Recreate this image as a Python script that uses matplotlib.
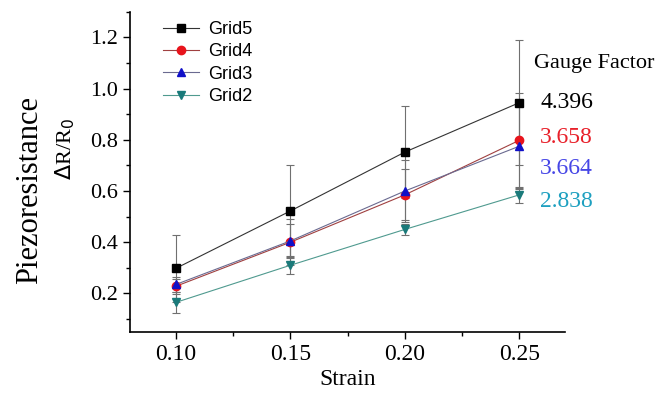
import matplotlib
matplotlib.use("Agg")
import matplotlib.pyplot as plt
from matplotlib.ticker import MultipleLocator

strain = [0.10, 0.15, 0.20, 0.25]
grid5 = [0.298, 0.522, 0.752, 0.945]
grid5_err = [0.13, 0.18, 0.18, 0.245]
grid4 = [0.228, 0.400, 0.585, 0.798]
grid4_err = [0.03, 0.09, 0.10, 0.185]
grid3 = [0.235, 0.405, 0.600, 0.775]
grid3_err = [0.03, 0.065, 0.12, 0.165]
grid2 = [0.165, 0.310, 0.450, 0.585]
grid2_err = [0.04, 0.035, 0.02, 0.03]
labels = ["Grid5", "Grid4", "Grid3", "Grid2"]
gauge = ["4.396", "3.658", "3.664", "2.838"]

serif = ["Liberation Serif", "DejaVu Serif"]

fig = plt.figure(figsize=(6.67, 3.96), dpi=100)
ax = fig.add_axes([0.195, 0.162, 0.652, 0.808])

series = [
    (grid5, grid5_err, "s", "black", "#333333"),
    (grid4, grid4_err, "o", "#e8141c", "#a04040"),
    (grid3, grid3_err, "^", "#1010c8", "#6a6a90"),
    (grid2, grid2_err, "v", "#1a7a7a", "#4f9a8f"),
]
for (y, e, m, mc, lc), lab in zip(series, labels):
    ax.errorbar(strain, y, yerr=e, fmt="none", ecolor="#707070", elinewidth=0.8,
                capsize=3, capthick=0.8, zorder=1)
    ax.plot(strain, y, color=lc, lw=0.8, marker=m, markersize=6,
            markerfacecolor=mc, markeredgecolor=mc, label=lab, zorder=3)

ax.set_xlim(0.08, 0.27)
ax.set_ylim(0.05, 1.3)
ax.xaxis.set_major_locator(MultipleLocator(0.05))
ax.xaxis.set_minor_locator(MultipleLocator(0.025))
ax.yaxis.set_major_locator(MultipleLocator(0.2))
ax.yaxis.set_minor_locator(MultipleLocator(0.1))
ax.spines["top"].set_visible(False)
ax.spines["right"].set_visible(False)
ax.spines["left"].set_linewidth(1.2)
ax.spines["bottom"].set_linewidth(1.2)
ax.tick_params(which="major", direction="out", length=5, width=1, labelsize=16)
ax.tick_params(which="minor", direction="out", length=3, width=1)
ax.set_xticks(strain)
ax.set_xticklabels(["%.2f" % v for v in strain], fontsize=17)
for t in ax.get_xticklabels() + ax.get_yticklabels():
    t.set_family(serif)

ax.set_xlabel("Strain", fontsize=17, family=serif, labelpad=3)
fig.text(0.045, 0.52, "Piezoresistance", rotation=90, fontsize=22, family=serif,
         ha="center", va="center")
fig.text(0.098, 0.624, r"$\Delta$R/R$_0$", rotation=90, fontsize=16, family=serif,
         ha="center", va="center")

leg = ax.legend(loc="upper left", bbox_to_anchor=(0.055, 1.0), frameon=False,
                prop={"family": "Liberation Sans", "size": 13}, handlelength=2.0,
                handletextpad=0.5, labelspacing=0.3, borderaxespad=0.1)

fig.text(0.80, 0.84, "Gauge Factor", fontsize=16, family=serif, va="center")
gcolors = ["black", "#e8202a", "#4646e6", "#1ea0c0"]
gy = [0.742, 0.653, 0.575, 0.49]
for s, c, yy in zip(gauge, gcolors, gy):
    fig.text(0.81, yy, s, fontsize=17, family=serif, color=c, va="center")

fig.savefig("out.png", dpi=100)
